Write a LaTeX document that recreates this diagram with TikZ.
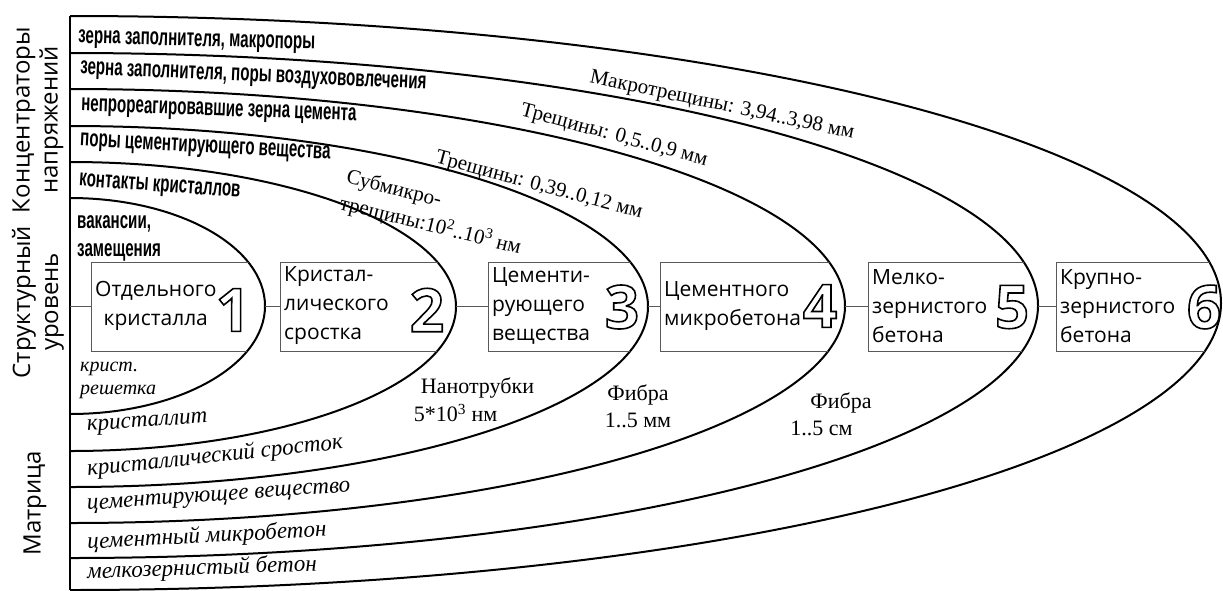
\documentclass[tikz,border=0pt]{standalone}
\usepackage{fontspec}
\setmainfont{Liberation Serif}
\newfontfamily\lvlfont{Open Sans}
\newfontfamily\bandfont[FakeStretch=0.63]{Liberation Sans}
\usetikzlibrary{positioning}
\newcommand{\hollow}[1]{\special{pdf:literal direct 2 Tr 1.6 w 0 G}#1\special{pdf:literal direct 0 Tr}}
\tikzset{
  shell/.style = {
    line width=2pt
  },
  lvlframe/.style = {
    draw=black!65,
    line width=0.9pt
  },
  lvltext/.style = {
    anchor=west,
    inner sep=4pt,
    align=left,
    font=\lvlfont\fontsize{21}{29}\selectfont
  },
  lvlnum/.style = {
    text=white,
    inner sep=0pt,
    font=\lvlfont\bfseries\fontsize{60}{60}\selectfont
  },
  link/.style = {
    draw=black!65,
    line width=0.9pt
  },
  bandlabel/.style = {
    anchor=west,
    inner sep=0pt,
    font=\bandfont\bfseries\fontsize{24}{28}\selectfont
  },
  matlabel/.style = {
    anchor=west,
    inner sep=0pt,
    font=\itshape\fontsize{23}{23}\selectfont
  },
  cracklabel/.style = {
    inner sep=0pt,
    font=\fontsize{21}{27}\selectfont
  },
  sidelabel/.style = {
    rotate=90,
    align=center,
    inner sep=0pt,
    font=\lvlfont\fontsize{24}{28}\selectfont
  }
}

\begin{document}
\begin{tikzpicture}[x=1pt, y=-1pt]
    \useasboundingbox (0,0) rectangle (1223,590);
    % nested shells
    \begin{scope}
      \clip (70,0) rectangle (1223,590);
      \draw[shell] (70,306) ellipse [x radius=195, y radius=108];
      \draw[shell] (70,306.5) ellipse [x radius=386, y radius=144.5];
      \draw[shell] (70,306.5) ellipse [x radius=578, y radius=180.5];
      \draw[shell] (70,306) ellipse [x radius=775, y radius=217];
      \draw[shell] (70,305.5) ellipse [x radius=968, y radius=252.5];
      \draw[shell] (70,303) ellipse [x radius=1151, y radius=287];
    \end{scope}
    \draw[shell] (70,16) -- (70,590);
    \coordinate (ax) at (70,306);
    \coordinate (e1) at (265,306);
    \coordinate (e2) at (456,306);
    \coordinate (e3) at (648,306);
    \coordinate (e4) at (845,306);
    \coordinate (e5) at (1038,306);
    % level frames, cut by their shell
    \begin{scope}
      \clip (70,306) ellipse [x radius=195, y radius=108];
      \draw[lvlframe] (91,262) rectangle (300,351);
    \end{scope}
    \begin{scope}
      \clip (70,306.5) ellipse [x radius=386, y radius=144.5];
      \draw[lvlframe] (280,262) rectangle (500,351);
    \end{scope}
    \begin{scope}
      \clip (70,306.5) ellipse [x radius=578, y radius=180.5];
      \draw[lvlframe] (488,262) rectangle (700,351);
    \end{scope}
    \begin{scope}
      \clip (70,306) ellipse [x radius=775, y radius=217];
      \draw[lvlframe] (660,262) rectangle (900,351);
    \end{scope}
    \begin{scope}
      \clip (70,305.5) ellipse [x radius=968, y radius=252.5];
      \draw[lvlframe] (868,262) rectangle (1100,351);
    \end{scope}
    \begin{scope}
      \clip (70,303) ellipse [x radius=1151, y radius=287];
      \draw[lvlframe] (1056,262) rectangle (1260,351);
    \end{scope}
    % level names
    \node[lvltext, align=center] (b1) at (91,306) {Отдельного\\кристалла};
    \node[lvltext] (b2) at (280,306) {Кристал-\\лического\\сростка};
    \node[lvltext] (b3) at (488,306) {Цементи-\\рующего\\вещества};
    \node[lvltext] (b4) at (660,306) {Цементного\\микробетона};
    \node[lvltext] (b5) at (868,306) {Мелко-\\зернистого\\бетона};
    \node[lvltext] (b6) at (1056,306) {Крупно-\\зернистого\\бетона};
    \node[lvlnum] (n1) at (233,310) {\hollow{1}};
    \node[lvlnum] (n2) at (427,310) {\hollow{2}};
    \node[lvlnum] (n3) at (622,307) {\hollow{3}};
    \node[lvlnum] (n4) at (820,306) {\hollow{4}};
    \node[lvlnum] (n5) at (1012,307) {\hollow{5}};
    \node[lvlnum] (n6) at (1204,307) {\hollow{6}};
    \draw[link] (ax) -- (b1.west);
    \draw[link] (e1) -- (b2.west);
    \draw[link] (e2) -- (b3.west);
    \draw[link] (e3) -- (b4.west);
    \draw[link] (e4) -- (b5.west);
    \draw[link] (e5) -- (b6.west);
    % stress concentrators
    \node[bandlabel, rotate=-1.5] (c6) at (78,39) {зерна заполнителя, макропоры};
    \node[bandlabel, rotate=-2.5] (c5) at (80,70) {зерна заполнителя, поры воздухововлечения};
    \node[bandlabel, rotate=-2] (c4) at (81,107) {непрореагировавшие зерна цемента};
    \node[bandlabel, rotate=-3] (c3) at (80,142) {поры цементирующего вещества};
    \node[bandlabel, rotate=-4] (c2) at (79,182) {контакты кристаллов};
    \node[bandlabel, align=left, anchor=north west] (c1) at (77,215) {вакансии,\\замещения};
    % cracks and reinforcement
    \node[cracklabel, rotate=-12] (k5) at (722,106) {Макротрещины: 3,94..3,98 мм};
    \node[cracklabel, rotate=-15] (k4) at (614,136) {Трещины: 0,5..0,9 мм};
    \node[cracklabel, rotate=-15] (k3) at (539,186) {Трещины: 0,39..0,12 мм};
    \node[cracklabel, rotate=-14, align=left, anchor=north west] (k2) at (349,168) {Субмикро-\\трещины:10\textsuperscript{2}..10\textsuperscript{3} нм};
    \node[cracklabel, align=left, font=\fontsize{22}{28}\selectfont] (f2) at (474,400) {\hspace*{7pt}Нанотрубки\\5*10\textsuperscript{3} нм};
    \node[cracklabel, align=center, font=\fontsize{22}{27}\selectfont] (f3) at (638,406) {Фибра\\1..5 мм};
    \node[cracklabel, align=left, font=\fontsize{22}{27}\selectfont] (f4) at (831,414) {\hspace*{20pt}Фибра\\1..5 см};
    % matrix
    \node[matlabel, align=left, anchor=north west, font=\itshape\fontsize{20}{23}\selectfont] (m0) at (80,362) {крист.\\решетка};
    \node[matlabel, rotate=4] (m1) at (87,428) {кристаллит};
    \node[matlabel, rotate=6] (m2) at (87,470) {кристаллический сросток};
    \node[matlabel, rotate=4] (m3) at (87,507) {цементирующее вещество};
    \node[matlabel, rotate=3] (m4) at (87,543) {цементный микробетон};
    \node[matlabel, rotate=2] (m5) at (87,573) {мелкозернистый бетон};
    % row titles
    \node[sidelabel] (conc) at (38,120) {Концентраторы\\напряжений};
    \node[sidelabel] (struct) at (38,302) {Структурный\\уровень};
    \node[sidelabel] (matr) at (35,503) {Матрица};
\end{tikzpicture}
\end{document}
